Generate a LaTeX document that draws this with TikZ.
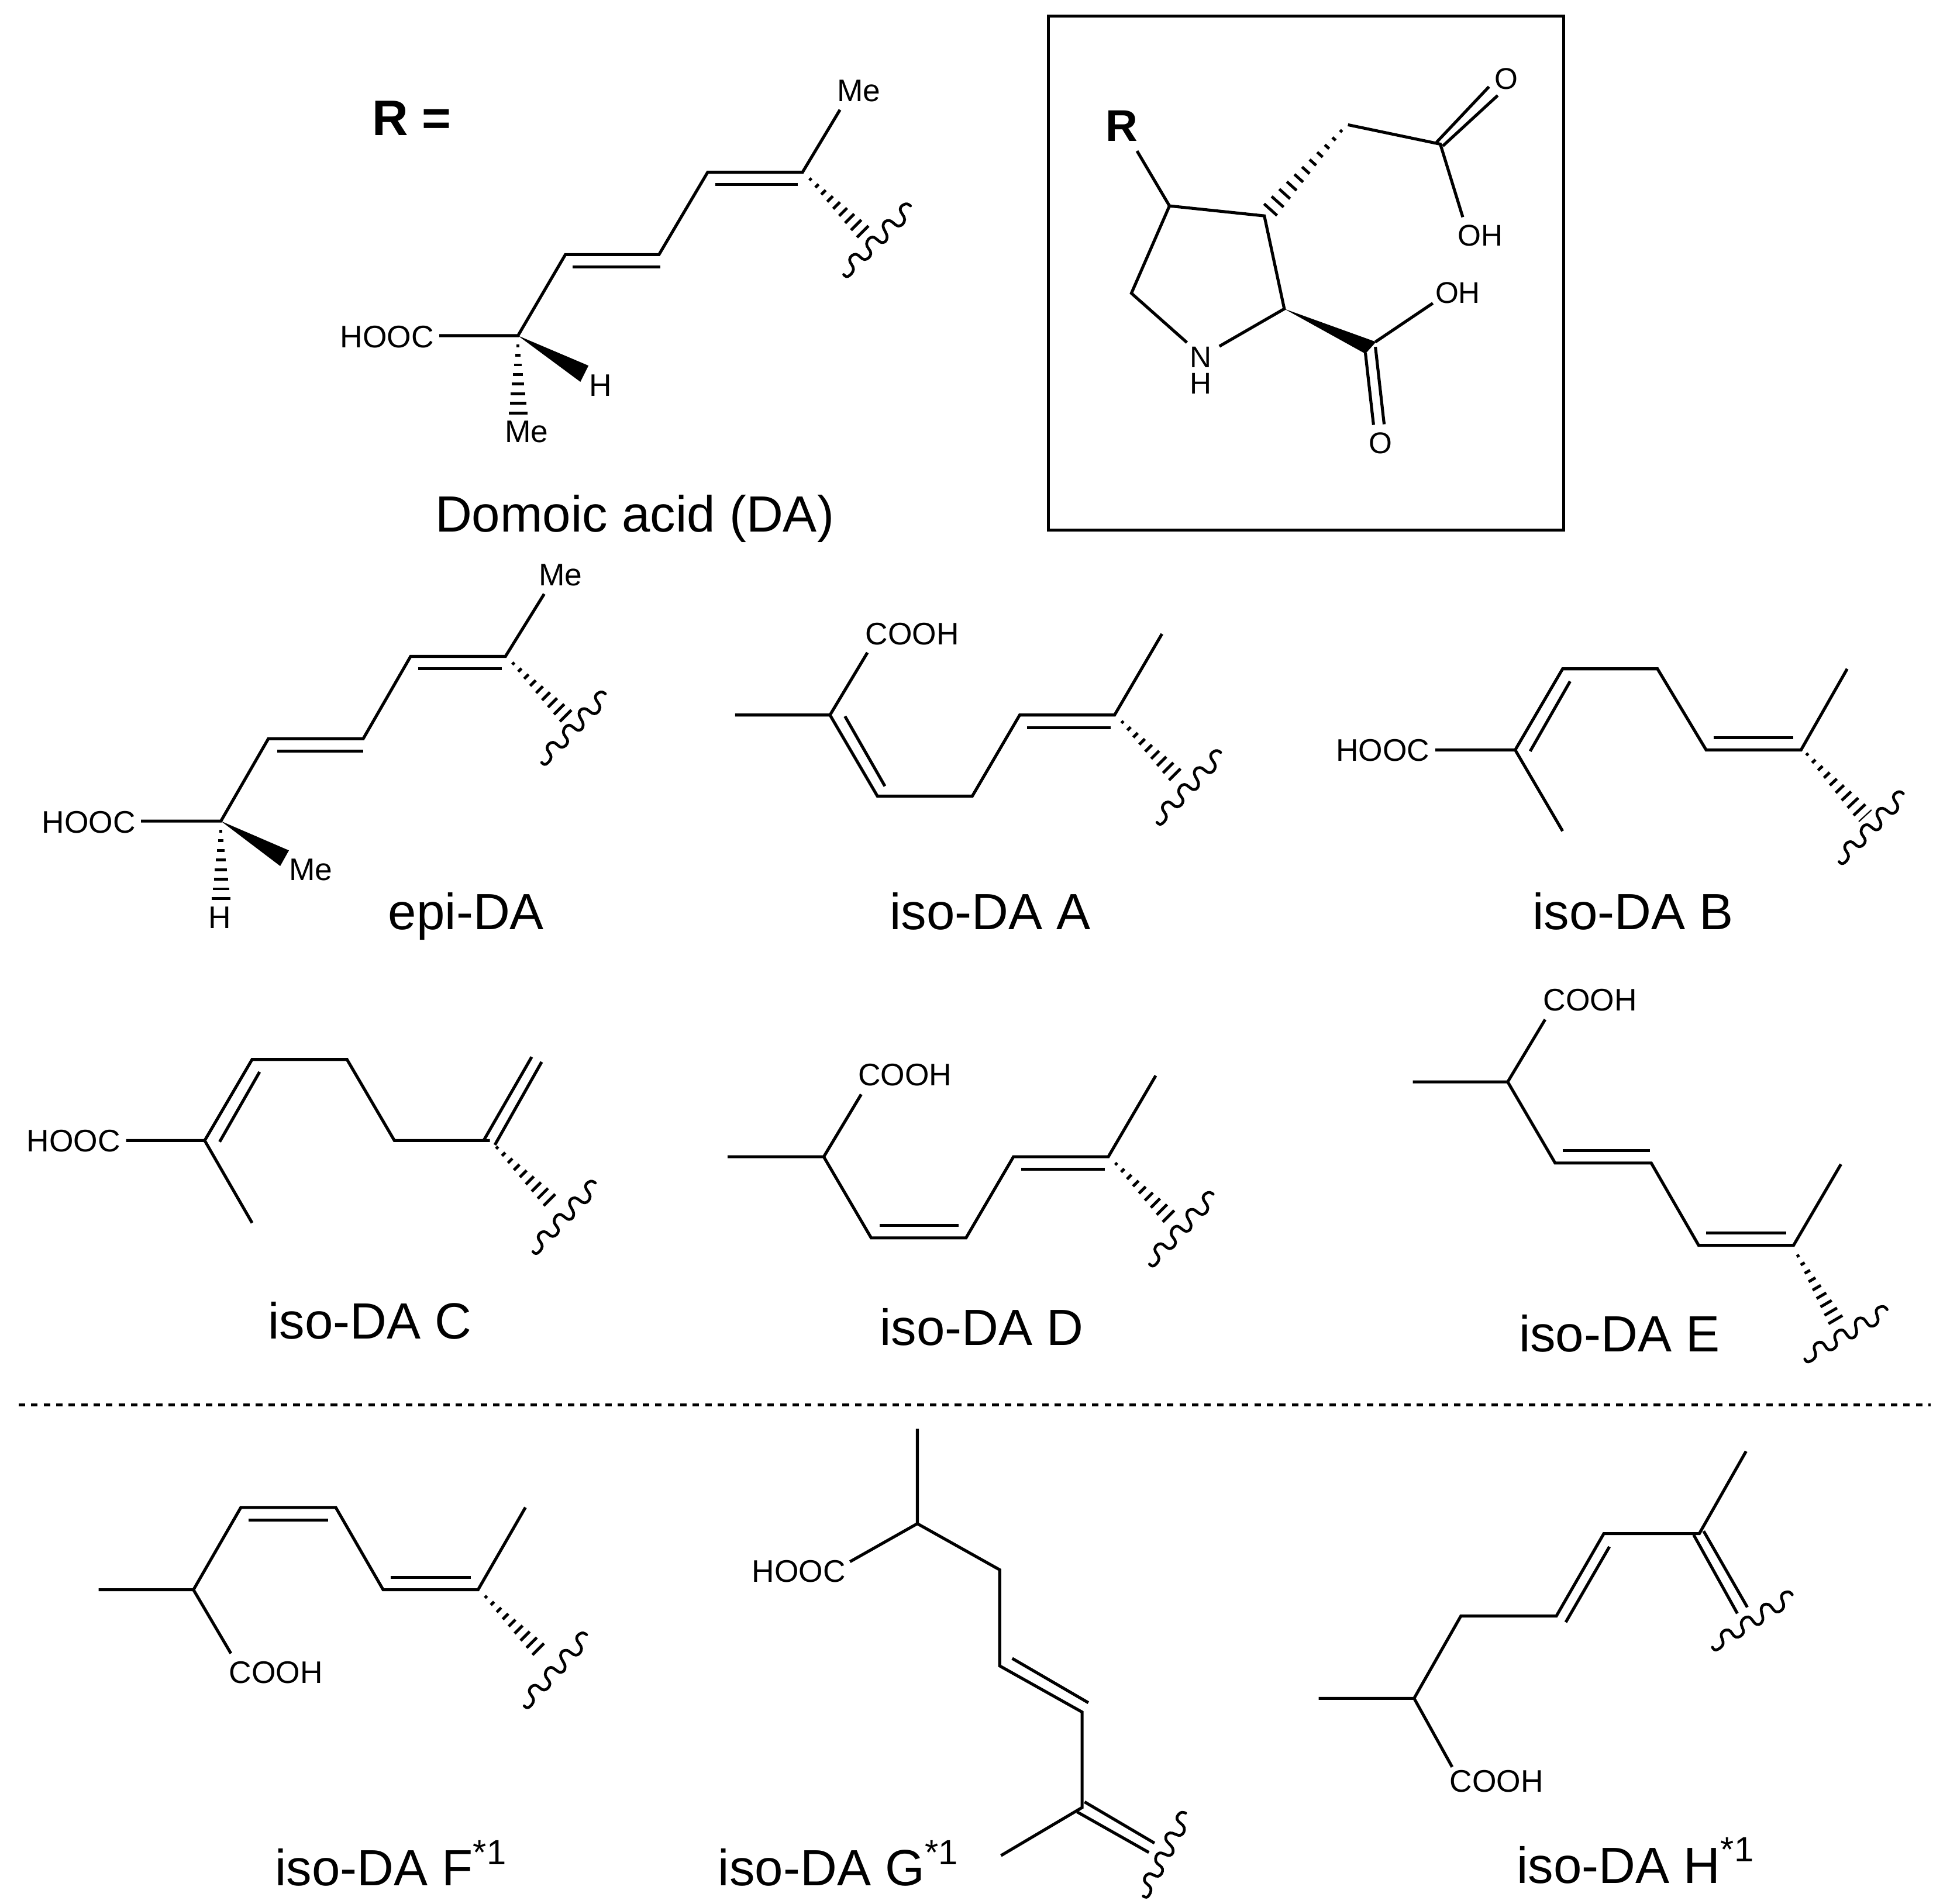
\documentclass[tikz,border=0pt]{standalone}
\usepackage{fontspec}
\setmainfont{Liberation Sans}
\tikzset{
  bond/.style={line width=1.2pt,line cap=butt,line join=miter,black},
  atom/.style={inner sep=0pt,font=\fontsize{12.5}{12.5}\selectfont,text height=9pt,text depth=0pt,yshift=0.5pt},
  atomin/.style={inner sep=0pt,font=\fontsize{12}{12}\selectfont,text height=8.6pt,text depth=0pt},
  caption/.style={inner sep=0pt,font=\fontsize{20.4}{24}\selectfont,anchor=base},
  captionw/.style={inner sep=0pt,font=\fontsize{20.4}{24}\selectfont,anchor=base west},
  rlabel/.style={inner sep=0pt,font=\fontsize{20}{20}\selectfont\bfseries,text height=14.3pt,text depth=0pt},
  rbox/.style={inner sep=0pt,font=\fontsize{17.8}{18}\selectfont\bfseries,text height=12.8pt,text depth=0pt},
  wavy/.style={line width=1.1pt,line cap=round,line join=round},
}
% hashed wedge: narrow at the first point, wide at the second; #5 = half width, #6 = strokes
\def\hashw(#1,#2)(#3,#4)#5#6{%
  \pgfmathsetmacro{\len}{veclen(#3-#1,#4-#2)}%
  \pgfmathsetmacro{\ux}{(#3-#1)/\len}%
  \pgfmathsetmacro{\uy}{(#4-#2)/\len}%
  \pgfmathtruncatemacro{\nm}{#6-1}%
  \foreach \i in {0,...,\nm}{%
    \pgfmathsetmacro{\t}{\i/\nm}%
    \pgfmathsetmacro{\w}{1.2+(#5-1.2)*\t}%
    \pgfmathsetmacro{\cx}{#1+(#3-#1)*\t}%
    \pgfmathsetmacro{\cy}{#2+(#4-#2)*\t}%
    \draw[line width=1.15pt] (\cx-\uy*\w,\cy+\ux*\w) -- (\cx+\uy*\w,\cy-\ux*\w);%
  }%
}
% wavy bond-end mark, start and end given, shape held in fractions of that span
\def\wave(#1,#2)(#3,#4){%
  \begin{scope}[shift={(#1,#2)},x={({(#3-#1)*0.5pt},{(#2-#4)*0.5pt})},y={({(#2-#4)*0.5pt},{(#1-#3)*0.5pt})}]
    \draw[wavy] plot[smooth,tension=0.75] coordinates {(0,0) (.0166,.046) (.110,.035) (.155,-.065) (.240,-.057) (.264,.047) (.354,.051) (.396,-.052) (.489,-.058) (.519,.055) (.596,.052) (.655,-.063) (.734,-.054) (.764,.059) (.855,.056) (.900,-.053) (.979,-.051) (1,0)};
  \end{scope}
}
\newcommand{\suptxt}{\raisebox{8.5pt}{\fontsize{14}{14}\selectfont *1}}
\begin{document}
\begin{tikzpicture}[x=0.5pt,y=-0.5pt]
\useasboundingbox (0,0) rectangle (1568,1525.4);

% ---------- Domoic acid ----------
\node[rlabel] (rtop) at (330,94) {R =};
\node[atom] (da1) at (310,270.5) {HOOC};
\node[atom] (da2) at (688,73.5) {Me};
\node[atom] (da3) at (481,309.5) {H};
\node[atom] (da4) at (422,346.5) {Me};
\node[caption] (dacap) at (508.5,426) {Domoic acid (DA)};
\draw[bond] (352,269)--(415,269)--(453,204)--(528,204)--(567,138)--(643,138)--(673,88);
\draw[bond] (459,214)--(529,214);
\draw[bond] (573,148)--(639,148);
\hashw(649.3,143.7)(691.2,185.6){6.5}{9}
\hashw(415,277)(415,331){7.5}{8}
\fill (415,269)--(471.5,293)--(465,306)--cycle;
\wave(676,220)(729.5,165)

% ---------- Core in box ----------
\draw[line width=1.2pt] (840,13) rectangle (1253,425);
\node[rbox] (rbox) at (899,100.5) {R};
\node[atomin] (nn) at (962,286) {N};
\node[atomin] (nh) at (962,307) {H};
\node[atomin] (o1) at (1207,63) {O};
\node[atomin] (oh1) at (1186,188.5) {OH};
\node[atomin] (oh2) at (1168,234.5) {OH};
\node[atomin] (o2) at (1106,355) {O};
\draw[bond] (911,121)--(937,165)--(1013,173)--(1029,247.5)--(977,277.5);
\draw[bond] (937,165)--(906.5,235)--(951,274.5);
\hashw(1074.5,105)(1018,168){7}{11}
\draw[bond] (1080,100)--(1154,115.5)--(1172,174);
\draw[bond] (1151,114)--(1193,69.5);
\draw[bond] (1156,117)--(1200,76.5);
\fill (1029,247.5)--(1102.5,274)--(1094,283.5)--cycle;
\draw[bond] (1102,274)--(1148,243);
\draw[bond] (1094,283)--(1100.5,340.5);
\draw[bond] (1102,278)--(1109,340);

% ---------- epi-DA ----------
\node[atom] (e1) at (71,659.5) {HOOC};
\node[atom] (e2) at (449,461.5) {Me};
\node[atom] (e3) at (249,697.5) {Me};
\node[atom] (e4) at (176,736) {H};
\node[caption] (ecap) at (373.5,745) {epi-DA};
\draw[bond] (113,658)--(177,658)--(215,592)--(291,592)--(329,526)--(405,526)--(436,476);
\draw[bond] (222,602)--(291,602);
\draw[bond] (335,536)--(402,536);
\hashw(411.3,531.7)(453.2,573.6){6.5}{9}
\hashw(177,666)(177,720){7.5}{8}
\fill (177,658)--(231.5,681.5)--(224.5,694)--cycle;
\wave(434,611)(485,556)

% ---------- iso-DA A ----------
\node[atom] (a1) at (731,508.5) {COOH};
\node[caption] (acap) at (793.5,745) {iso-DA A};
\draw[bond] (589,573)--(665,573)--(695,523);
\draw[bond] (665,573)--(703,638)--(779,638)--(817,573)--(893,573)--(931,508);
\draw[bond] (677,574)--(709,630);
\draw[bond] (823,583)--(890,583);
\hashw(899.3,578.7)(941.2,620.6){6.5}{9}
\wave(927,659)(978,603)

% ---------- iso-DA B ----------
\node[atom] (b1) at (1108,602) {HOOC};
\node[caption] (bcap) at (1308.5,745) {iso-DA B};
\draw[bond] (1150,601)--(1214,601)--(1252,666);
\draw[bond] (1214,601)--(1252,536)--(1328,536)--(1367,601)--(1443,601)--(1480,536);
\draw[bond] (1226,602)--(1258,546);
\draw[bond] (1373,591)--(1437,591);
\hashw(1448,604.5)(1489.8,649){6.5}{9}
\draw[line width=0.5pt] (1489.3,658.4)--(1499.5,649);
\wave(1473.5,690.5)(1525,636)

% ---------- iso-DA C ----------
\node[atom] (c1) at (59,915) {HOOC};
\node[caption] (ccap) at (296.5,1073) {iso-DA C};
\draw[bond] (101,914)--(164,914)--(202,980);
\draw[bond] (164,914)--(202,849)--(278,849)--(316,914)--(392.5,914);
\draw[bond] (176,915)--(208,859);
\draw[bond] (387.5,914)--(426,847);
\draw[bond] (396.5,917.5)--(434,851);
\hashw(398.3,919.7)(440.2,961.6){6.5}{9}
\wave(427,1003)(477,948)

% ---------- iso-DA D ----------
\node[atom] (d1) at (725,862) {COOH};
\node[caption] (dcap) at (786.5,1078) {iso-DA D};
\draw[bond] (583,927)--(660,927)--(690,877);
\draw[bond] (660,927)--(698,992)--(774,992)--(812,927)--(888,927)--(926,862);
\draw[bond] (705,982)--(768,982);
\draw[bond] (818,937)--(885,937);
\hashw(894.3,932.7)(936.2,974.6){6.5}{9}
\wave(921,1013)(972,957)

% ---------- iso-DA E ----------
\node[atom] (f1) at (1274,802) {COOH};
\node[caption] (fcap) at (1297.5,1083) {iso-DA E};
\draw[bond] (1132,867)--(1208,867)--(1238,817);
\draw[bond] (1208,867)--(1246,932)--(1323,932)--(1361,998)--(1437,998)--(1475,933);
\draw[bond] (1252,922)--(1322,922);
\draw[bond] (1367,988)--(1431,988);
\hashw(1440.6,1006.4)(1470.6,1057.5){6.5}{9}
\wave(1446,1089)(1512,1049.5)

% ---------- separator ----------
\coordinate (sepl) at (15,1126);
\coordinate (sepr) at (1547,1126);
\draw[line width=1.2pt,dash pattern=on 2.6pt off 2.4pt] (sepl)--(sepr);

% ---------- iso-DA F ----------
\node[atom] (g1) at (221,1341) {COOH};
\node[captionw] (gcap) at (220,1511) {iso-DA F\suptxt};
\draw[bond] (79,1274)--(155,1274)--(185,1325);
\draw[bond] (155,1274)--(193,1208)--(269,1208)--(307,1274)--(383,1274)--(421,1208);
\draw[bond] (199,1218)--(263,1218);
\draw[bond] (313,1264)--(377,1264);
\hashw(389.3,1279.7)(431.2,1321.6){6.5}{9}
\wave(420,1367)(470,1310)

% ---------- iso-DA G ----------
\node[atom] (h1) at (640,1260) {HOOC};
\node[captionw] (hcap) at (575,1511) {iso-DA G\suptxt};
\draw[bond] (735,1145)--(735,1221)--(681,1251.5);
\draw[bond] (735,1221)--(801,1258)--(801,1335)--(867,1372)--(867,1448.5)--(802,1487);
\draw[bond] (811,1329)--(872,1364.5);
\draw[bond] (869,1444)--(925,1477);
\draw[bond] (863,1452)--(920.5,1484.5);
\wave(916,1519.5)(950,1453)

% ---------- iso-DA H ----------
\node[atom] (i1) at (1199,1428) {COOH};
\node[captionw] (icap) at (1215,1509) {iso-DA H\suptxt};
\draw[bond] (1056.5,1361)--(1133,1361)--(1163.5,1416);
\draw[bond] (1133,1361)--(1170.5,1295)--(1247,1295)--(1285,1229)--(1361.5,1229)--(1399,1163);
\draw[bond] (1254.5,1300)--(1289.5,1239.5);
\draw[bond] (1357,1230)--(1392,1293);
\draw[bond] (1365,1227)--(1400,1288);
\wave(1372,1320)(1436,1278)
\end{tikzpicture}
\end{document}
